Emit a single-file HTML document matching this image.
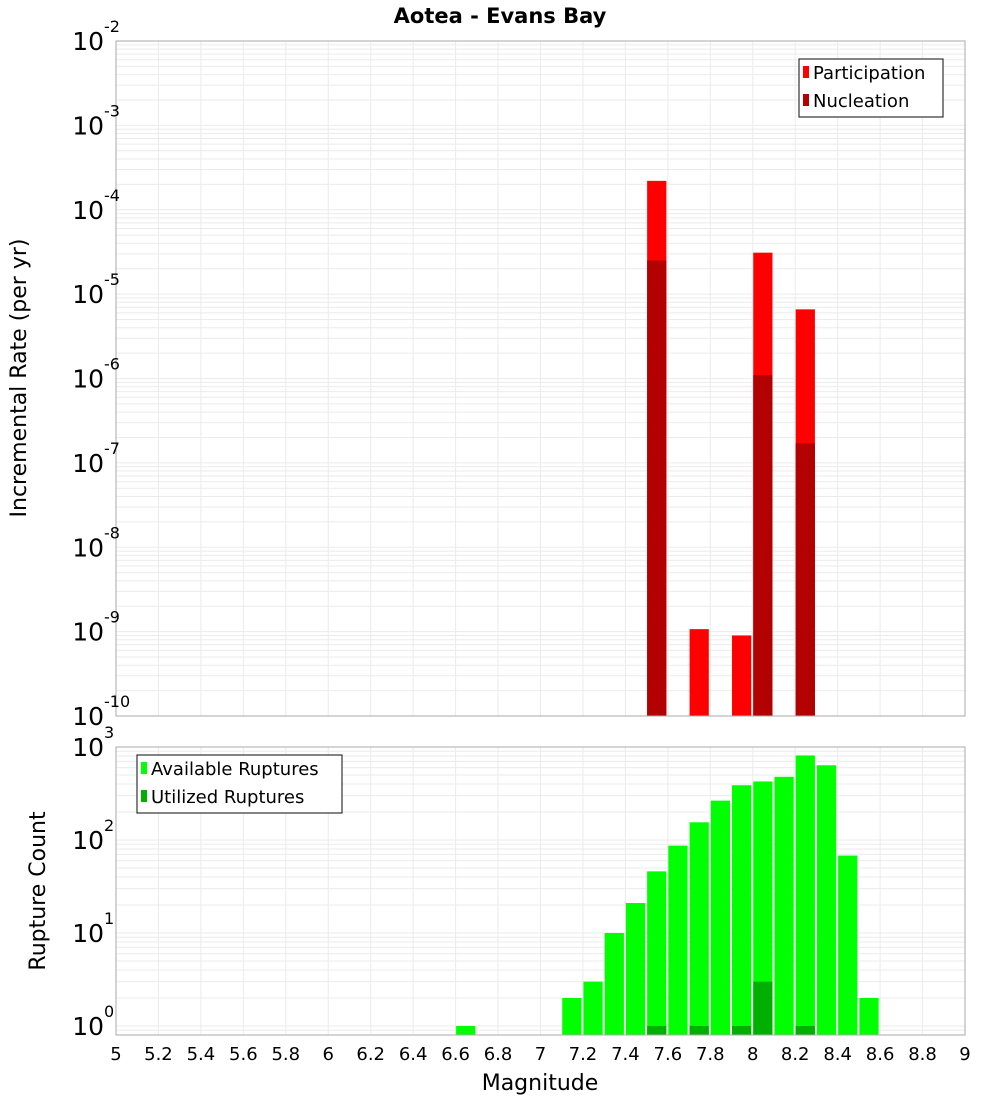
<!DOCTYPE html>
<html><head><meta charset="utf-8"><style>
body{margin:0;background:#fff;}
svg text{font-family:"DejaVu Sans","Liberation Sans",sans-serif;fill:#000;}
</style></head><body>
<svg id="c" width="1000" height="1100" xmlns="http://www.w3.org/2000/svg">
<rect width="1000" height="1100" fill="#fff"/>
<text x="500" y="23" text-anchor="middle" font-size="21" font-weight="bold">Aotea - Evans Bay</text>
<g id="g"></g>
<text transform="translate(26,378) rotate(-90)" text-anchor="middle" font-size="22">Incremental Rate (per yr)</text>
<text transform="translate(45,891) rotate(-90)" text-anchor="middle" font-size="22">Rupture Count</text>
<text x="540" y="1090" text-anchor="middle" font-size="22">Magnitude</text>
</svg>
<script>
const rateMags=[7.55,7.75,7.95,8.05,8.25];
const participation=[2.2e-4,1.07e-9,9e-10,3.1e-5,6.6e-6];
const nucleationMags=[7.55,8.05,8.25];
const nucleation=[2.5e-5,1.1e-6,1.7e-7];
const countMags=[6.65,7.15,7.25,7.35,7.45,7.55,7.65,7.75,7.85,7.95,8.05,8.15,8.25,8.35,8.45,8.55];
const available=[1,2,3,10,21,46,87,155,265,388,426,478,812,636,68,2];
const utilMags=[7.55,7.75,7.95,8.05,8.25];
const utilized=[1,1,1,3,1];
const xTicks=[5,5.2,5.4,5.6,5.8,6,6.2,6.4,6.6,6.8,7,7.2,7.4,7.6,7.8,8,8.2,8.4,8.6,8.8,9];
const topExps=[-2,-3,-4,-5,-6,-7,-8,-9,-10];
const botExps=[0,1,2,3];

const NS="http://www.w3.org/2000/svg";
const G=document.getElementById('g');
const X0=116,X1=965;
const x=m=>X0+(m-5)/4*(X1-X0);
const T0=41,T1=716;
const yT=v=>T0+(-2-Math.log10(v))/8*(T1-T0);
const B0=747,B1=1035;
const yB=v=>1026-Math.log10(v)*93;
function el(t,a,p){const e=document.createElementNS(NS,t);for(const k in a)e.setAttribute(k,a[k]);(p||G).appendChild(e);return e;}

function grid(top,bot,yf,eLo,eHi,nameP){
  for(let e=eLo;e<=eHi;e++)for(let k=1;k<10;k++){
    const v=k*Math.pow(10,e);const yy=yf(v);
    if(yy<top-0.5||yy>bot+0.5)continue;
    const l=el('line',{x1:X0,x2:X1,y1:yy,y2:yy,stroke:'#ebebeb','stroke-width':1});
    
    
  }
  xTicks.forEach(t=>{const l=el('line',{x1:x(t),x2:x(t),y1:top,y2:bot,stroke:'#ebebeb','stroke-width':1});
    
    });
}
grid(T0,T1,yT,-10,-3,'top');
grid(B0,B1,yB,-1,2,'bottom');

function bar(m,v,yf,base,color,name){
  const w=(X1-X0)/40;
  const y=yf(v);
  const r=el('rect',{x:x(m-0.05)+0.5,y:y,width:w-2,height:base-y,fill:color});
  
  
}
rateMags.forEach((m,i)=>bar(m,participation[i],yT,T1,'#ff0000','participation-bar'));
nucleationMags.forEach((m,i)=>bar(m,nucleation[i],yT,T1,'#b30000','nucleation-bar'));
countMags.forEach((m,i)=>bar(m,available[i],yB,B1,'#00ff00','available-bar'));
utilMags.forEach((m,i)=>bar(m,utilized[i],yB,B1,'#00b000','utilized-bar'));

[[T0,T1,'top-plot-frame'],[B0,B1,'bottom-plot-frame']].forEach(f=>{
  const r=el('rect',{x:X0,y:f[0],width:X1-X0,height:f[1]-f[0],fill:'none',stroke:'#aaa','stroke-width':1});
  
  
});

function ylab(yy,e,name){
  const t=el('text',{x:104,y:yy+9,'text-anchor':'end','font-size':25});
  
  
  t.textContent='10';
  const s=el('text',{x:104,y:yy-9,'text-anchor':'start','font-size':16});
  
  
  s.textContent=String(e);
}
topExps.forEach(e=>ylab(yT(Math.pow(10,e)),e,'top-y-tick-label'));
botExps.forEach(e=>ylab(yB(Math.pow(10,e)),e,'bottom-y-tick-label'));
xTicks.forEach(t=>{
  const tx=el('text',{x:x(t),y:1060,'text-anchor':'middle','font-size':18});
  
  
  tx.textContent=String(t);
});

function legend(x0,y0,w,h,items,name){
  const g=el('g',{});
  
  
  el('rect',{x:x0,y:y0,width:w,height:h,fill:'#fff',stroke:'#333','stroke-width':1.2},g);
  items.forEach((it,i)=>{
    const yy=y0+13+i*28;
    const sw=el('rect',{x:x0+4,y:yy-6,width:6,height:12,fill:it[1]},g);
    
    
    const t=el('text',{x:x0+14,y:yy+7,'font-size':18},g);
    
    
    t.textContent=it[0];
  });
}
legend(799,59,144,58,[['Participation','#ff0000'],['Nucleation','#b30000']],'top-legend');
legend(137,755,205,58,[['Available Ruptures','#00ff00'],['Utilized Ruptures','#00b000']],'bottom-legend');
</script>
</body></html>
